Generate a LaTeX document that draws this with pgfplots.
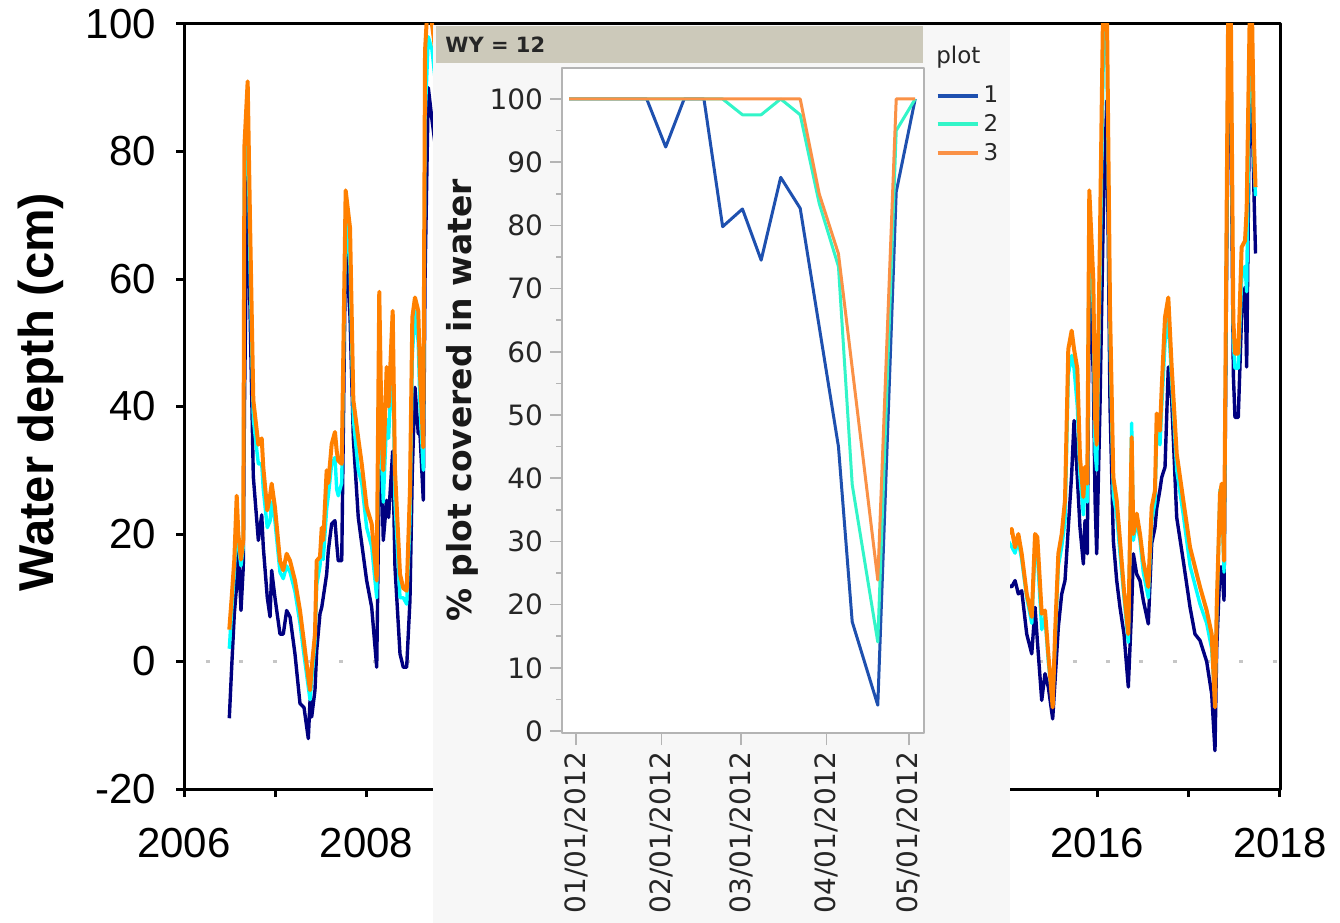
\documentclass[border=0pt]{standalone}
\usepackage{fontspec}
\setmainfont{Liberation Sans}
\newfontfamily\insetfont{DejaVu Sans}
\usepackage{pgfplots}
\usepackage{pgfplotstable}
\pgfplotsset{compat=1.18}
\definecolor{cnavy}{RGB}{0,0,128}
\definecolor{ccyan}{RGB}{0,255,255}
\definecolor{corange}{RGB}{255,128,0}
\definecolor{panel}{RGB}{247,247,247}
\definecolor{header}{RGB}{204,201,186}
\definecolor{iblue}{RGB}{30,80,175}
\definecolor{igreen}{RGB}{50,245,200}
\definecolor{iorange}{RGB}{250,145,70}
\definecolor{iframe}{RGB}{180,180,180}

\pgfplotstableread{
x N C O
2006.496 -8.9 2 5
2006.522 -0.9 8 10
2006.551 7.5 14 16
2006.577 12 22 26
2006.595 17.9 18 20
2006.624 8 15 16
2006.649 14.8 18 19
2006.662 40 75 81
2006.697 80 86 91
2006.723 55 62 69
2006.759 29 38 41
2006.814 19 31 34
2006.851 23 31 35
2006.868 18 27 30.5
2006.912 10 21 23.7
2006.942 7 22 26
2006.960 14.3 25 27.9
2006.996 10 22 24.2
2007.051 4.3 14 15.8
2007.087 4.3 13 14.3
2007.124 8 15 16.9
2007.161 7 14 15.8
2007.215 1.2 11 12.7
2007.270 -6.6 6 8
2007.314 -7.2 1 3
2007.361 -12.1 -4 -2.5
2007.380 -6.1 -6 -4.5
2007.398 -8.7 -3 -1
2007.434 -4.5 3 4.3
2007.453 1.7 12 15.8
2007.489 7.5 15 16.4
2007.508 8.5 19 21
2007.525 10.1 16 19
2007.562 13.7 24 30
2007.580 17.4 26 28
2007.617 21.6 31 34.1
2007.653 22.1 32 36
2007.672 18.5 27 33
2007.689 15.8 26 31.5
2007.727 15.8 28 31
2007.770 66 70 73.9
2007.818 54 62 68
2007.854 35 38 41
2007.908 22.6 30 35
2007.946 18.5 28 31
2008.000 12.7 21 24.2
2008.055 8.5 18 21.6
2008.110 -0.9 10 12.7
2008.138 30 50 58
2008.165 28.9 31 34.7
2008.182 19 25 30
2008.219 25.3 38 46.2
2008.240 22.6 35 40
2008.285 33 50 55
2008.310 14.8 25 30
2008.365 1.2 10 13.7
2008.401 -0.9 10 11.5
2008.438 -0.9 9 11.1
2008.474 9.6 22 26.8
2008.500 30 48 54
2008.529 43 55 57.1
2008.565 35.7 50 55
2008.584 35.7 40 45
2008.620 25.3 30 33.6
2008.639 60 85 95.8
2008.675 90 98 105
2008.715 85 96 100
2008.759 80 90 95
nan nan nan nan
2015.022 12 19 20
2015.062 11.7 18 20.8
2015.099 12.7 17 17.9
2015.135 10.6 19 20
2015.172 11.1 16 16.9
2015.227 4.3 10 10.6
2015.282 1.2 6 7
2015.318 8.5 18 20
2015.343 3.3 17 19.5
2015.391 -6.1 5 7.5
2015.427 -1.9 7 8
2015.463 -4 0 1.2
2015.511 -9 -6.5 -7.2
2015.537 -3 3 4.3
2015.573 5.4 15 16.9
2015.610 10.6 18 20
2015.646 12.7 22 25.3
2015.682 21 45 49
2015.719 29.4 48 51.9
2015.745 37.8 46 49
2015.781 28.9 40 45.9
2015.810 21 29 32
2015.847 15.3 23 25.8
2015.865 22.1 28 30.5
2015.890 16.9 25 27.9
2015.912 60 70 73.9
2015.956 45 55 59.8
2015.975 25.3 33 38.3
2015.993 16.9 30 34
2016.029 40 60 67
2016.065 70 95 105
2016.103 88 100 105
2016.139 40 50 55
2016.175 19 26 28.9
2016.212 12.7 23 25.3
2016.248 8.5 17 19
2016.292 4.3 10 11.1
2016.339 -4 3 4.3
2016.376 8.5 37.4 35.2
2016.394 16.9 19 20
2016.431 13.7 22 23.2
2016.467 12.7 19 20
2016.503 9.6 14 15.8
2016.558 5.9 10 11.7
2016.595 18.5 22 24.2
2016.631 21 25 26.8
2016.650 24 36 38.9
2016.686 27 34 36.2
2016.705 28.9 40 43
2016.741 30.5 50 54
2016.777 46.2 54 57.1
2016.814 41 44 46.2
2016.869 22.6 30 32.6
2016.941 15.8 23 25.3
2017.015 8.5 15 17.9
2017.069 4.3 12 14.8
2017.124 3.3 9 11.7
2017.197 0 6 8
2017.252 -5.1 2 4.3
2017.288 -14 -6 -7.2
2017.307 2 7 8.5
2017.343 14.8 27 26.3
2017.362 14.8 26 27.9
2017.387 9.6 14 15.8
2017.434 95 100 105
2017.460 90 100 105
2017.489 45 50 53.5
2017.507 38.3 46 48.3
2017.543 38.3 46 48.3
2017.580 54.5 60 65
2017.617 58.7 62 66
2017.635 46.2 58 71
2017.672 95 100 105
2017.690 90 100 105
2017.716 72.8 78 81.2
2017.732 64 73 74.4
}\wdata

\pgfplotstableread{
d v
-2.5 100
25.7 100
32.6 92.4
39.3 100
46.5 100
53.3 79.8
60.5 82.6
67.3 74.5
74.4 87.6
81.5 82.7
95.4 45
100.4 17.3
109.7 4.1
116.4 85.3
123.3 100
}\pone

\pgfplotstableread{
d v
-2.5 100
53.3 100
60.5 97.5
67.3 97.5
74.4 100
81.5 97.5
88.4 83.5
95.4 73.5
100.4 39
109.7 14.1
116.4 95
123.3 100
}\ptwo

\pgfplotstableread{
d v
-2.5 100
81.5 100
88.4 85
95.4 75.5
109.7 23.9
116.4 100
123.3 100
}\pthree

\begin{document}
\begin{tikzpicture}
\path[use as bounding box] (0,0) rectangle (670bp,-461.5bp);
\begin{axis}[
  at={(92bp,-12bp)}, anchor=north west,
  width=548bp, height=382.5bp, scale only axis,
  xmin=2006, xmax=2018, ymin=-20, ymax=100,
  xtick={2006,...,2018},
  xticklabels={2006,,2008,,2010,,2012,,2014,,2016,,2018},
  ytick={-20,0,...,100},
  tick pos=left, tick align=outside,
  major tick length=4bp,
  axis line style={line width=1.5bp},
  every tick/.style={black, line width=1.5bp},
  ticklabel style={font=\fontsize{21bp}{24bp}\selectfont},
  xticklabel style={yshift=-12bp},
  yticklabel style={xshift=-6.5bp},
  /pgf/number format/assume math mode=true,
  ylabel={\bfseries Water depth (cm)},
  ylabel style={font=\fontsize{24.5bp}{28bp}\selectfont, at={(axis description cs:-0.131,0.519)}, anchor=center},
  unbounded coords=jump,
  line join=round,
]
\addplot[gray!45, line width=1.5bp, dash pattern=on 2bp off 14.67bp] coordinates {(2006.24,0) (2018,0)};
\addplot[cnavy, line width=1.7bp] table[x=x, y=N] {\wdata};
\addplot[ccyan, line width=1.7bp] table[x=x, y=C] {\wdata};
\addplot[corange, line width=2bp] table[x=x, y=O] {\wdata};
\end{axis}
\fill[panel] (216.5bp,-12.5bp) rectangle (505bp,-461.5bp);
\fill[header] (218bp,-13bp) rectangle (461.5bp,-31.5bp);
\node[anchor=west, inner sep=0pt, font=\insetfont\bfseries\fontsize{10.5bp}{12bp}\selectfont, text=black!85] at (222.5bp,-22.2bp) {WY = 12};
\begin{axis}[
  at={(281bp,-34bp)}, anchor=north west,
  width=181bp, height=332.5bp, scale only axis,
  xmin=-5.1, xmax=126.5, ymin=-0.3, ymax=104.9,
  clip=false,
  axis background/.style={fill=white},
  axis line style={iframe, line width=1bp},
  xtick={0,31,60,91,121},
  xticklabels={01/01/2012,02/01/2012,03/01/2012,04/01/2012,05/01/2012},
  xticklabel style={rotate=90, anchor=east},
  ytick={0,10,...,100}, minor ytick={5,15,...,95},
  tick pos=left, tick align=outside,
  major tick length=6bp, minor tick length=3bp,
  every tick/.style={iframe, line width=0.8bp},
  ticklabel style={font=\insetfont\fontsize{14bp}{16bp}\selectfont, text=black!85},
  /pgf/number format/assume math mode=true,
  ylabel={\bfseries\% plot covered in water},
  ylabel style={font=\insetfont\fontsize{16.5bp}{19bp}\selectfont, text=black!90, at={(axis description cs:-0.276,0.5)}, anchor=center},
  legend style={at={(axis description cs:1.031,0.98)}, anchor=north west, draw=none, fill=none, inner sep=0pt, row sep=0.5bp,
    font=\insetfont\fontsize{11.5bp}{13bp}\selectfont, text=black!85},
  legend cell align=left,
  legend image code/.code={\draw[#1, line width=2bp] (0bp,0bp) -- (20bp,0bp);},
  line join=round,
]
\addplot[iblue, line width=1.5bp] table[x=d, y=v] {\pone};
\addlegendentry{1}
\addplot[igreen, line width=1.5bp] table[x=d, y=v] {\ptwo};
\addlegendentry{2}
\addplot[iorange, line width=1.5bp] table[x=d, y=v] {\pthree};
\addlegendentry{3}
\node[anchor=west, inner sep=0pt, font=\insetfont\fontsize{11.5bp}{13bp}\selectfont, text=black!85] at (axis description cs:1.033,1.017) {plot};
\end{axis}
\end{tikzpicture}
\end{document}
